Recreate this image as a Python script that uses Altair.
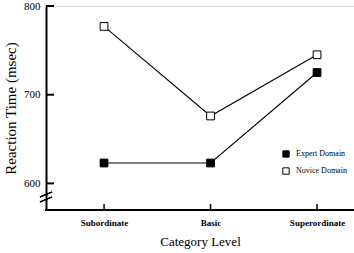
import altair as alt
import pandas as pd
import json

levels = ["Subordinate", "Basic", "Superordinate"]
expert = [623, 623, 725]
novice = [777, 676, 745]
series = ["Expert  Domain", "Novice  Domain"]
y_ticks = [600, 700, 800]

rows = []
for s, vals in zip(series, [expert, novice]):
    for i, (lv, v) in enumerate(zip(levels, vals)):
        rows.append({"idx": i, "level": lv, "rt": v, "series": s})
df = pd.DataFrame(rows)

FONT = "Liberation Serif"
W, H = 308, 204

xs = alt.Scale(domain=[-0.545, 2.347], nice=False, zero=False)
ys = alt.Scale(domain=[570, 800], nice=False, zero=False)
label_expr = json.dumps(levels) + "[datum.value]"

base = alt.Chart(df)

lines = base.mark_line(color="black", strokeWidth=1.1).encode(
    x=alt.X("idx:Q", scale=xs,
            axis=alt.Axis(title="Category  Level", titleFont=FONT, titleFontSize=13,
                          titleFontWeight="normal", titleColor="black", titlePadding=8,
                          labelFont=FONT, labelFontSize=9, labelFontWeight="bold",
                          labelColor="black", labelPadding=8, values=list(range(len(levels))),
                          labelExpr=label_expr, grid=False,
                          ticks=False, domain=False)),
    y=alt.Y("rt:Q", scale=ys,
            axis=alt.Axis(title="Reaction  Time  (msec)", titleFont=FONT, titleFontSize=15,
                          titleFontWeight="normal", titleColor="black", titlePadding=5,
                          labelFont=FONT, labelFontSize=11, labelColor="black",
                          values=y_ticks, ticks=False, labelPadding=6, grid=False,
                          domainColor="black", domainWidth=2)),
    detail="series:N",
)

points = base.mark_point(shape="square", size=60, stroke="black", strokeWidth=1,
                         opacity=1, filled=False).encode(
    x=alt.X("idx:Q", scale=xs),
    y=alt.Y("rt:Q", scale=ys),
    fill=alt.Fill("series:N", scale=alt.Scale(domain=series, range=["black", "white"]),
                  legend=alt.Legend(title=None, orient="none", legendX=236, legendY=144,
                                    symbolType="square", symbolSize=40,
                                    symbolStrokeColor="black", symbolStrokeWidth=1,
                                    labelFont=FONT, labelFontSize=8, labelColor="black",
                                    rowPadding=5, labelOffset=6)),
)

ytick_df = pd.DataFrame({"v": y_ticks})
yticks = alt.Chart(ytick_df).mark_rule(color="black", strokeWidth=2).encode(
    x=alt.value(0), x2=alt.value(8), y=alt.Y("v:Q", scale=ys))

xtick_df = pd.DataFrame({"idx": list(range(len(levels)))})
xticks = alt.Chart(xtick_df).mark_rule(color="black", strokeWidth=1.5).encode(
    x=alt.X("idx:Q", scale=xs), y=alt.value(H - 6), y2=alt.value(H))

xaxis_line = alt.Chart(ytick_df).mark_rule(color="black", strokeWidth=2).encode(
    x=alt.value(-1), x2=alt.value(W), y=alt.value(H))

brk1 = alt.Chart(ytick_df).mark_rule(color="black", strokeWidth=1.2).encode(
    x=alt.value(-6), x2=alt.value(6), y=alt.value(191), y2=alt.value(186))
brk2 = alt.Chart(ytick_df).mark_rule(color="black", strokeWidth=1.2).encode(
    x=alt.value(-6), x2=alt.value(6), y=alt.value(196), y2=alt.value(191))

chart = alt.layer(lines, points, yticks, xticks, xaxis_line, brk1, brk2).properties(
    width=W, height=H,
    autosize=alt.AutoSizeParams(type="none"),
    padding={"left": 46, "top": 6, "right": 0, "bottom": 43},
).configure_view(stroke=None).configure(background="white")

chart.save("out.html", embed_options={"renderer": "svg", "actions": False})
